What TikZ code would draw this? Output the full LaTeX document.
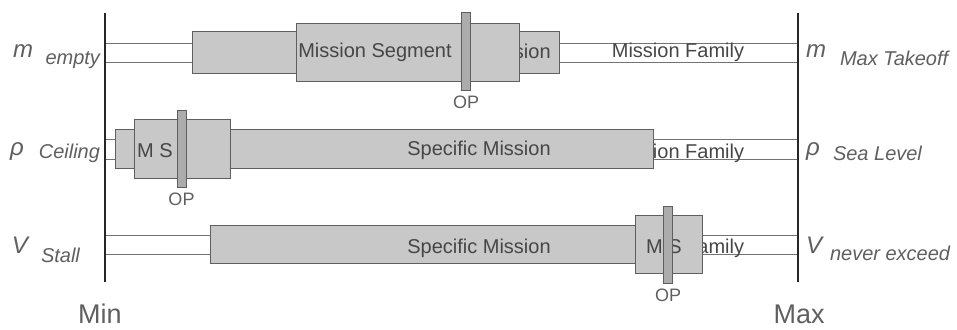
\documentclass[tikz,border=0pt]{standalone}
\usepackage{fontspec}
\setmainfont{Liberation Sans}
\definecolor{boxgray}{RGB}{200,200,200}
\definecolor{bargray}{RGB}{172,172,172}
\definecolor{edgegray}{RGB}{95,95,95}
\definecolor{textgray}{RGB}{70,70,70}
\definecolor{labelgray}{RGB}{95,95,95}

\begin{document}
\begin{tikzpicture}[
    x=1pt, y=-1pt,
    every node/.style={inner sep=0pt, outer sep=0pt},
    limit/.style={line width=2.6pt, draw=black!85},
    family/.style={draw=black!55, line width=0.9pt, rectangle},
    mission/.style={draw=edgegray, fill=boxgray, line width=1pt, rectangle},
    opbar/.style={draw=edgegray, fill=bargray, line width=1pt, rectangle, minimum width=9pt, minimum height=77pt},
    txt/.style={font=\fontsize{20}{24}\selectfont, text=textgray, anchor=base},
    optxt/.style={font=\fontsize{18}{20}\selectfont, text=labelgray, anchor=base},
    sym/.style={font=\fontsize{24}{28}\selectfont\itshape, text=labelgray, anchor=base west},
    subtxt/.style={font=\fontsize{20}{24}\selectfont\itshape, text=labelgray},
    ends/.style={font=\fontsize{27}{30}\selectfont, text=labelgray, anchor=base}
]
\useasboundingbox (0,0) rectangle (957,329);

% mass row
\node[family, minimum width=693pt, minimum height=19pt] (fam1) at (451.5,52.5) {};
\node[txt] (famtxt1) at (678,58) {Mission Family};
\node[mission, minimum width=367pt, minimum height=41pt] (spec1) at (375.5,52.5) {};
\node[txt] (spectxt1) at (479,59) {Specific Mission};
\node[mission, minimum width=223pt, minimum height=57pt] (seg1) at (407.5,52.5) {};
\node[txt] (segtxt1) at (375,58) {Mission Segment};
\node[opbar] (op1) at (466,51.5) {};
\node[optxt] (oplbl1) at (466,108) {OP};

% density row
\node[family, minimum width=693pt, minimum height=20pt] (fam2) at (451.5,149) {};
\node[txt] (famtxt2) at (678,158) {Mission Family};
\node[mission, minimum width=538pt, minimum height=39pt] (spec2) at (384,148.5) {};
\node[txt] (spectxt2) at (479,155) {Specific Mission};
\node[mission, minimum width=96pt, minimum height=59pt] (seg2) at (182,148.5) {};
\node[txt] (segtxt2) at (155,157) {M S};
\node[opbar] (op2) at (181.5,148.5) {};
\node[optxt] (oplbl2) at (181.5,205) {OP};

% speed row
\node[family, minimum width=693pt, minimum height=19pt] (fam3) at (451.5,244.5) {};
\node[txt] (famtxt3) at (678,253) {Mission Family};
\node[mission, minimum width=440pt, minimum height=38pt] (spec3) at (430,244.5) {};
\node[txt] (spectxt3) at (479,253) {Specific Mission};
\node[mission, minimum width=67pt, minimum height=58pt] (seg3) at (668.5,244) {};
\node[txt] (segtxt3) at (664,253) {M S};
\node[opbar] (op3) at (668,244.5) {};
\node[optxt] (oplbl3) at (668,301) {OP};

% min and max limits
\coordinate (mintop) at (105,13);
\coordinate (minbot) at (105,282);
\coordinate (maxtop) at (798,13);
\coordinate (maxbot) at (798,282);
\draw[limit] (mintop) -- (minbot);
\draw[limit] (maxtop) -- (maxbot);
\node[ends] (minlbl) at (100,323) {Min};
\node[ends] (maxlbl) at (799,323) {Max};

% bounds, left side
\node[sym] (mmin) at (13,57) {m};
\node[subtxt, anchor=base east] (mminsub) at (100,64) {empty};
\node[sym] (rhomin) at (10,155) {ρ};
\node[subtxt, anchor=base east] (rhominsub) at (100,158) {Ceiling};
\node[sym] (vmin) at (12,253) {V};
\node[subtxt, anchor=base west] (vminsub) at (41,262) {Stall};

% bounds, right side
\node[sym] (mmax) at (806,57) {m};
\node[subtxt, anchor=base west] (mmaxsub) at (840,65) {Max Takeoff};
\node[sym] (rhomax) at (806,155) {ρ};
\node[subtxt, anchor=base west] (rhomaxsub) at (833,160) {Sea Level};
\node[sym] (vmax) at (806,253) {V};
\node[subtxt, anchor=base west] (vmaxsub) at (830,260) {never exceed};
\end{tikzpicture}
\end{document}
